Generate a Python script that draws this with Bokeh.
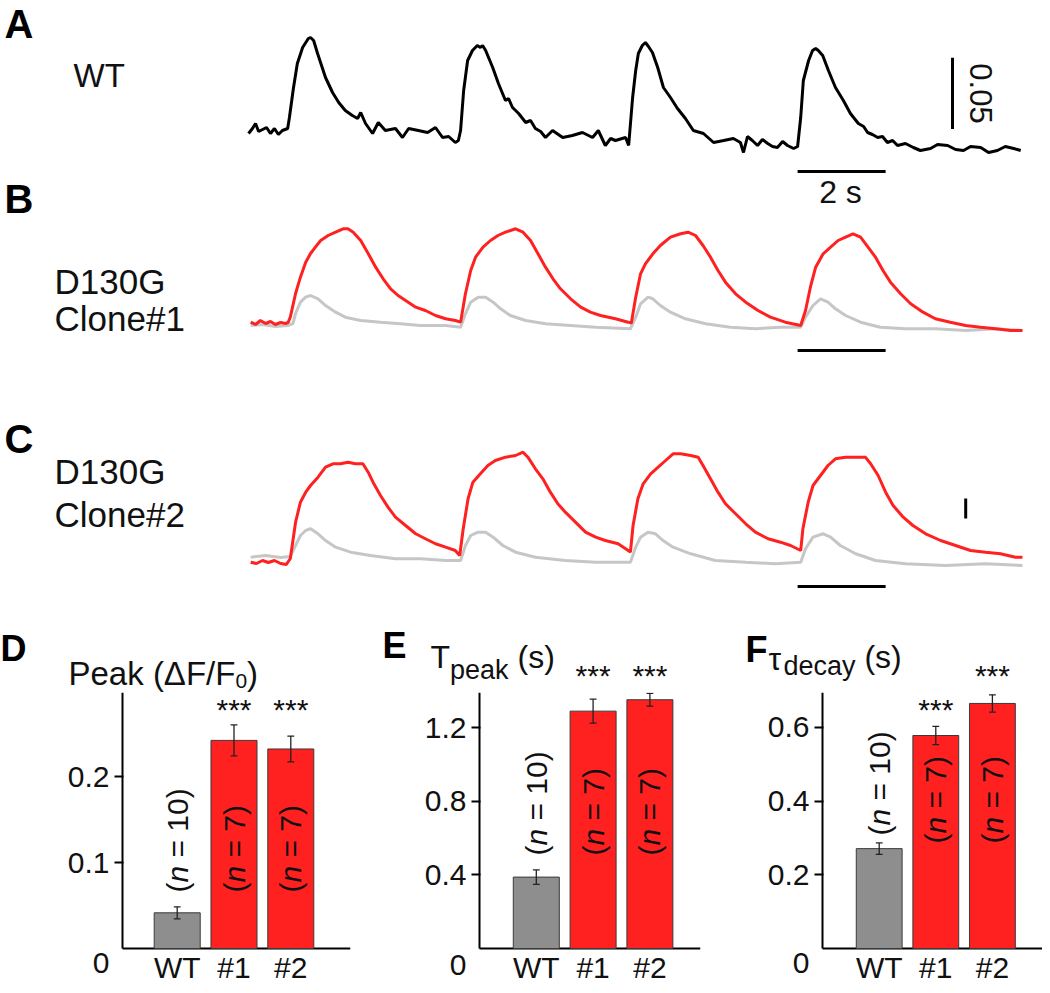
import math
from bokeh.plotting import figure
from bokeh.layouts import column, row
from bokeh.models import Range1d, Label, FixedTicker
from bokeh.embed import file_html
from bokeh.resources import INLINE

FONT = "Liberation Sans"

# ---------------- trace data (time s, dF/F0) ----------------
a_t = [0, 0.09, 0.16, 0.23, 0.32, 0.41, 0.50, 0.59, 0.68, 0.77,
       0.89, 0.93, 1.02, 1.11, 1.23, 1.36, 1.41, 1.48, 1.57, 1.66,
       1.75, 1.91, 2.05, 2.20, 2.36, 2.48, 2.55, 2.66, 2.82, 2.95,
       3.11, 3.34, 3.50, 3.64, 3.86, 4.07, 4.25, 4.41, 4.55, 4.70,
       4.77, 4.82, 4.89, 4.98, 5.09, 5.20, 5.27, 5.32, 5.39, 5.55,
       5.68, 5.84, 5.91, 6.00, 6.14, 6.30, 6.41, 6.52, 6.64, 6.75,
       6.91, 7.14, 7.36, 7.59, 7.82, 7.95, 8.11, 8.23, 8.34, 8.57,
       8.64, 8.73, 8.80, 8.86, 8.95, 9.02, 9.09, 9.18, 9.30, 9.43,
       9.59, 9.75, 9.93, 10.11, 10.34, 10.57, 10.80, 11.02, 11.18, 11.25,
       11.34, 11.45, 11.57, 11.68, 11.80, 11.91, 12.02, 12.14, 12.25, 12.39,
       12.48, 12.55, 12.61, 12.73, 12.82, 12.89, 12.95, 13.05, 13.18, 13.34,
       13.52, 13.68, 13.86, 13.98, 14.07, 14.18, 14.30, 14.41, 14.52, 14.64,
       14.75, 14.93, 15.11, 15.27, 15.50, 15.66, 15.89, 16.07, 16.25, 16.41,
       16.64, 16.82, 17.02, 17.20, 17.39, 17.55]
a_v = [0.0119, 0.0154, 0.0189, 0.0133, 0.0147, 0.0161, 0.0119, 0.0154, 0.0112, 0.0140,
       0.0154, 0.0231, 0.0434, 0.0609, 0.0721, 0.0784, 0.0791, 0.0770, 0.0679, 0.0595,
       0.0511, 0.0406, 0.0336, 0.0280, 0.0245, 0.0224, 0.0266, 0.0189, 0.0119, 0.0196,
       0.0140, 0.0154, 0.0091, 0.0154, 0.0140, 0.0126, 0.0161, 0.0091, 0.0098, 0.0056,
       0.0070, 0.0140, 0.0420, 0.0630, 0.0700, 0.0735, 0.0721, 0.0735, 0.0700, 0.0581,
       0.0469, 0.0350, 0.0364, 0.0301, 0.0259, 0.0196, 0.0210, 0.0154, 0.0133, 0.0091,
       0.0140, 0.0091, 0.0105, 0.0126, 0.0091, 0.0140, 0.0035, 0.0084, 0.0070, 0.0091,
       0.0035, 0.0371, 0.0560, 0.0679, 0.0735, 0.0756, 0.0728, 0.0686, 0.0581, 0.0441,
       0.0371, 0.0294, 0.0224, 0.0140, 0.0119, 0.0056, 0.0070, 0.0084, 0.0056, -0.0014,
       0.0098, 0.0070, 0.0035, 0.0077, 0.0049, 0.0028, 0.0021, 0.0063, 0.0035, 0.0014,
       0.0028, 0.0231, 0.0490, 0.0630, 0.0700, 0.0714, 0.0700, 0.0665, 0.0560, 0.0441,
       0.0350, 0.0259, 0.0189, 0.0168, 0.0126, 0.0112, 0.0091, 0.0098, 0.0056, 0.0070,
       0.0035, 0.0049, 0.0021, 0.0000, 0.0014, 0.0042, 0.0035, 0.0007, 0.0000, 0.0028,
       0.0021, -0.0014, 0.0000, 0.0028, 0.0014, 0.0000]

b_red_t = [0.05, 0.16, 0.27, 0.39, 0.50, 0.61, 0.73, 0.84, 0.90, 0.95,
           1.07, 1.18, 1.30, 1.41, 1.52, 1.64, 1.81, 1.98, 2.15, 2.26,
           2.38, 2.55, 2.72, 2.89, 3.06, 3.23, 3.40, 3.57, 3.80, 4.02,
           4.25, 4.48, 4.70, 4.82, 4.93, 5.05, 5.16, 5.33, 5.50, 5.67,
           5.84, 6.07, 6.24, 6.41, 6.58, 6.75, 6.92, 7.09, 7.32, 7.55,
           7.77, 8.00, 8.34, 8.63, 8.70, 8.80, 8.91, 9.02, 9.19, 9.36,
           9.59, 9.82, 9.99, 10.16, 10.33, 10.50, 10.67, 10.84, 11.07, 11.30,
           11.58, 11.86, 12.20, 12.55, 12.66, 12.77, 12.89, 13.06, 13.23, 13.40,
           13.57, 13.74, 13.91, 14.08, 14.25, 14.42, 14.59, 14.82, 15.05, 15.33,
           15.61, 15.95, 16.30, 16.64, 16.98, 17.32, 17.59]
b_red_v = [0.0208, 0.0150, 0.0250, 0.0175, 0.0225, 0.0150, 0.0200, 0.0175, 0.0200, 0.0333,
           0.0925, 0.1333, 0.1708, 0.1925, 0.2083, 0.2250, 0.2375, 0.2458, 0.2543, 0.2543,
           0.2458, 0.2250, 0.1925, 0.1583, 0.1293, 0.1043, 0.0875, 0.0750, 0.0583, 0.0500,
           0.0375, 0.0293, 0.0250, 0.0208, 0.0918, 0.1500, 0.1833, 0.2083, 0.2250, 0.2375,
           0.2458, 0.2543, 0.2458, 0.2250, 0.1918, 0.1583, 0.1293, 0.1043, 0.0793, 0.0583,
           0.0458, 0.0375, 0.0293, 0.0208, 0.0183, 0.0833, 0.1418, 0.1668, 0.1918, 0.2125,
           0.2333, 0.2418, 0.2458, 0.2375, 0.2125, 0.1833, 0.1500, 0.1208, 0.0918, 0.0708,
           0.0500, 0.0333, 0.0208, 0.0125, 0.0500, 0.1083, 0.1583, 0.1918, 0.2083, 0.2250,
           0.2333, 0.2418, 0.2333, 0.2083, 0.1833, 0.1500, 0.1208, 0.0918, 0.0668, 0.0458,
           0.0293, 0.0208, 0.0125, 0.0083, 0.0043, 0.0000, 0.0000]

b_gray_t = [0.05, 0.32, 0.61, 0.89, 1.01, 1.07, 1.18, 1.30, 1.41, 1.58,
            1.75, 1.98, 2.20, 2.55, 3.00, 3.45, 3.91, 4.48, 4.82, 4.93,
            5.05, 5.22, 5.39, 5.56, 5.73, 5.95, 6.30, 6.75, 7.32, 7.89,
            8.68, 8.80, 8.91, 9.08, 9.19, 9.36, 9.59, 9.93, 10.39, 10.95,
            11.52, 12.09, 12.55, 12.66, 12.83, 13.00, 13.17, 13.34, 13.57, 13.91,
            14.36, 14.93, 15.61, 16.30, 16.98, 17.59]
b_gray_v = [0.0125, 0.0150, 0.0100, 0.0125, 0.0175, 0.0425, 0.0708, 0.0833, 0.0875, 0.0793,
            0.0625, 0.0458, 0.0333, 0.0250, 0.0208, 0.0168, 0.0125, 0.0125, 0.0083, 0.0418,
            0.0708, 0.0833, 0.0833, 0.0708, 0.0543, 0.0375, 0.0250, 0.0168, 0.0125, 0.0083,
            0.0043, 0.0333, 0.0668, 0.0833, 0.0793, 0.0625, 0.0458, 0.0293, 0.0168, 0.0083,
            0.0043, 0.0083, 0.0083, 0.0333, 0.0625, 0.0793, 0.0708, 0.0543, 0.0375, 0.0208,
            0.0083, 0.0043, 0.0043, 0.0000, 0.0043, 0.0000]

c_red_t = [0.05, 0.18, 0.32, 0.45, 0.59, 0.73, 0.86, 0.95, 1.07, 1.18,
           1.30, 1.41, 1.58, 1.75, 1.92, 2.09, 2.26, 2.43, 2.60, 2.72,
           2.83, 3.00, 3.17, 3.34, 3.57, 3.80, 4.02, 4.25, 4.48, 4.70,
           4.80, 4.88, 4.99, 5.10, 5.27, 5.44, 5.61, 5.84, 6.07, 6.24,
           6.35, 6.52, 6.69, 6.86, 7.03, 7.20, 7.43, 7.66, 7.89, 8.11,
           8.40, 8.63, 8.68, 8.74, 8.85, 8.97, 9.14, 9.31, 9.48, 9.65,
           9.82, 10.05, 10.22, 10.33, 10.50, 10.67, 10.84, 11.07, 11.30, 11.52,
           11.81, 12.09, 12.32, 12.55, 12.60, 12.72, 12.83, 13.00, 13.17, 13.34,
           13.57, 13.80, 14.02, 14.14, 14.31, 14.48, 14.65, 14.88, 15.10, 15.39,
           15.73, 16.07, 16.41, 16.75, 17.09, 17.43, 17.59]
c_red_v = [0.0083, 0.0050, 0.0125, 0.0075, 0.0125, 0.0050, 0.0025, 0.0175, 0.1083, 0.1583,
           0.1833, 0.2000, 0.2208, 0.2458, 0.2543, 0.2543, 0.2583, 0.2543, 0.2543, 0.2333,
           0.2083, 0.1750, 0.1458, 0.1208, 0.1000, 0.0793, 0.0668, 0.0543, 0.0458, 0.0375,
           0.0250, 0.0918, 0.1668, 0.2083, 0.2293, 0.2500, 0.2625, 0.2708, 0.2750, 0.2833,
           0.2708, 0.2418, 0.2168, 0.1833, 0.1543, 0.1333, 0.1083, 0.0833, 0.0708, 0.0625,
           0.0543, 0.0375, 0.0333, 0.1000, 0.1668, 0.2043, 0.2293, 0.2458, 0.2625, 0.2793,
           0.2793, 0.2750, 0.2708, 0.2500, 0.2168, 0.1833, 0.1543, 0.1293, 0.1043, 0.0833,
           0.0668, 0.0583, 0.0500, 0.0375, 0.0918, 0.1583, 0.2000, 0.2250, 0.2500, 0.2668,
           0.2708, 0.2708, 0.2708, 0.2543, 0.2250, 0.1833, 0.1500, 0.1208, 0.1000, 0.0793,
           0.0625, 0.0500, 0.0375, 0.0333, 0.0293, 0.0208, 0.0208]

c_gray_t = [0.05, 0.39, 0.73, 0.95, 1.07, 1.18, 1.30, 1.41, 1.58, 1.75,
            1.98, 2.32, 2.77, 3.34, 3.91, 4.48, 4.82, 4.93, 5.05, 5.22,
            5.39, 5.56, 5.78, 6.07, 6.52, 7.20, 7.89, 8.68, 8.80, 8.91,
            9.08, 9.25, 9.42, 9.65, 10.05, 10.61, 11.30, 11.98, 12.55, 12.66,
            12.83, 13.06, 13.23, 13.45, 13.80, 14.25, 14.93, 15.84, 16.75, 17.59]
c_gray_v = [0.0208, 0.0250, 0.0200, 0.0225, 0.0500, 0.0750, 0.0875, 0.0918, 0.0793, 0.0625,
            0.0458, 0.0333, 0.0250, 0.0168, 0.0168, 0.0125, 0.0125, 0.0500, 0.0750, 0.0833,
            0.0833, 0.0708, 0.0500, 0.0333, 0.0208, 0.0125, 0.0083, 0.0083, 0.0458, 0.0708,
            0.0833, 0.0793, 0.0625, 0.0458, 0.0293, 0.0125, 0.0083, 0.0043, 0.0083, 0.0418,
            0.0708, 0.0793, 0.0708, 0.0500, 0.0293, 0.0125, 0.0043, 0.0000, 0.0043, 0.0000]

# ---------------- bar data ----------------
groups = ["WT", "#1", "#2"]
n_labels = ["10", "7", "7"]
peak_mean = [0.0415, 0.242, 0.232]
peak_sem = [0.007, 0.018, 0.015]
tpeak_mean = [0.388, 1.290, 1.352]
tpeak_sem = [0.039, 0.065, 0.035]
tau_mean = [0.271, 0.578, 0.665]
tau_sem = [0.0155, 0.025, 0.0235]
peak_ticks = [0.1, 0.2]
tpeak_ticks = [0.4, 0.8, 1.2]
tau_ticks = [0.2, 0.4, 0.6]

RED = "#ff2020"
GRAY_BAR = "#8e8e8e"
GRAY_TR = "#c6c6c6"
TXT = "#111111"

W = 1042
YA, YB, YC = 0, 222, 415          # page tops of the trace strips
TOP, MID, BOT = 600, 692, 985     # bar panels: title strip / plot


def fx_tr(x):
    return (x - 248) / 44.0


def lab(p, x, y, text, size, style="normal", align="left", angle=0.0, color=TXT):
    p.add_layout(Label(x=x, y=y, text=text, text_font=FONT,
                       text_font_size=f"{size}px", text_font_style=style,
                       text_align=align, text_baseline="middle", angle=angle,
                       text_color=color))


def blank_fig(w, h, xr, yr):
    p = figure(width=w, height=h, x_range=Range1d(*xr), y_range=Range1d(*yr),
               output_backend="svg", toolbar_location=None,
               x_axis_location=None, y_axis_location=None, min_border=0)
    p.outline_line_color = None
    p.grid.visible = False
    p.background_fill_color = "white"
    p.border_fill_color = "white"
    return p

# ---- Panel A ----
fyA = lambda y: (150 - y) * 0.0007
pA = blank_fig(W, YB - YA, (fx_tr(0), fx_tr(W)), (fyA(YB), fyA(YA)))
pA.line(a_t, a_v, line_color="black", line_width=3)
pA.line([16.0, 16.0], [0.015, 0.065], line_color="black", line_width=3)
pA.line([12.48, 14.48], [fyA(171), fyA(171)], line_color="black", line_width=3)
lab(pA, fx_tr(4), fyA(23), "A", 40, "bold", color="#000000")
lab(pA, fx_tr(73), fyA(75), "WT", 33)
lab(pA, fx_tr(980), fyA(93), "0.05", 31, align="center", angle=-math.pi / 2)
lab(pA, fx_tr(840), fyA(191), "2 s", 32, align="center")
lab(pA, fx_tr(4), fyA(198), "B", 40, "bold", color="#000000")

# ---- Panel B ----
fyB = lambda y: (330 - y) * 0.0025
pB = blank_fig(W, YC - YB, (fx_tr(0), fx_tr(W)), (fyB(YC), fyB(YB)))
pB.line(b_gray_t, b_gray_v, line_color=GRAY_TR, line_width=3)
pB.line(b_red_t, b_red_v, line_color=RED, line_width=3)
pB.line([12.48, 14.48], [fyB(350), fyB(350)], line_color="black", line_width=3)
lab(pB, fx_tr(54), fyB(281), "D130G", 35)
lab(pB, fx_tr(54), fyB(318), "Clone#1", 35)

# ---- Panel C ----
fyC = lambda y: (565 - y) * 0.0025
pC = blank_fig(W, TOP - YC, (fx_tr(0), fx_tr(W)), (fyC(TOP), fyC(YC)))
pC.line(c_gray_t, c_gray_v, line_color=GRAY_TR, line_width=3)
pC.line(c_red_t, c_red_v, line_color=RED, line_width=3)
pC.line([12.48, 14.48], [fyC(586), fyC(586)], line_color="black", line_width=3)
pC.line([16.3, 16.3], [fyC(518), fyC(498)], line_color="black", line_width=3)
lab(pC, fx_tr(4), fyC(438), "C", 40, "bold", color="#000000")
lab(pC, fx_tr(54), fyC(471), "D130G", 35)
lab(pC, fx_tr(54), fyC(514), "Clone#2", 35)


def bar_panel(col_l, col_r, frame_l, axis_x, axis_r, c1, step, ppu,
              means, sems, ticks, zero_y, stars, n_y, letter, letter_xy, title_parts):
    fx = lambda x: 1 + (x - c1) / step
    fy = lambda y: (948 - y) / ppu
    w = col_r - col_l
    right_b = col_r - axis_r
    # title strip above the plot
    t = blank_fig(w, MID - TOP, (fx(col_l), fx(col_r)), (fy(MID), fy(TOP)))
    # plot
    p = figure(width=w, height=BOT - MID,
               x_range=Range1d(fx(frame_l), fx(col_r - right_b)),
               y_range=Range1d(fy(BOT), fy(MID)), output_backend="svg",
               toolbar_location=None, x_axis_location=None,
               min_border_left=frame_l - col_l, min_border_right=right_b,
               min_border_top=0, min_border_bottom=0)
    p.outline_line_color = None
    p.grid.visible = False
    p.background_fill_color = "white"
    p.border_fill_color = "white"
    ya = p.yaxis[0]
    zero_pos = round(fy(zero_y), 4)
    ya.ticker = FixedTicker(ticks=ticks + [zero_pos], minor_ticks=ticks)
    ov = {tk: f"{tk:g}" for tk in ticks}
    ov[zero_pos] = "0"
    ya.major_label_overrides = ov
    ya.axis_line_color = None
    ya.major_tick_line_color = None
    ya.major_tick_in = 0
    ya.major_tick_out = 8
    ya.minor_tick_line_color = "black"
    ya.minor_tick_line_width = 2
    ya.minor_tick_in = 3
    ya.minor_tick_out = 6
    ya.major_label_standoff = 3
    ya.major_label_text_font = FONT
    ya.major_label_text_font_size = "30px"
    ya.major_label_text_color = TXT

    xs = [1, 2, 3]
    p.line([fx(axis_x), fx(axis_x)], [0, fy(MID)], line_color="black", line_width=2)
    p.line([fx(axis_x), fx(axis_r)], [0, 0], line_color="black", line_width=2)
    p.vbar(x=xs, top=means, width=0.81, bottom=0,
           fill_color=[GRAY_BAR, RED, RED], line_color="#3a3a3a", line_width=1)
    lo = [m - s for m, s in zip(means, sems)]
    hi = [m + s for m, s in zip(means, sems)]
    p.segment(x0=xs, y0=lo, x1=xs, y1=hi, line_color="#222222", line_width=1.3)
    for yv in (lo, hi):
        p.segment(x0=[x - 0.06 for x in xs], y0=yv, x1=[x + 0.06 for x in xs], y1=yv,
                  line_color="#222222", line_width=1.3)
    # significance stars
    for x, (sy, where) in zip(xs[1:], stars):
        lab(t if where == "top" else p, x, fy(sy), "***", 30, align="center")
    # rotated n labels
    fs = 30
    for x, nl, yb in zip(xs, n_labels, n_y):
        lab(p, x, fy(yb), "(", fs, angle=math.pi / 2)
        lab(p, x, fy(yb - 0.333 * fs), "n", fs, style="italic", angle=math.pi / 2)
        lab(p, x, fy(yb - (0.333 + 0.556 + 0.278) * fs), "= " + nl + ")", fs,
            angle=math.pi / 2)
    # category labels
    for x, g in zip(xs, groups):
        lab(p, x, fy(967), g, 30, align="center")
    # panel letter and title
    lab(t, fx(letter_xy[0]), fy(letter_xy[1]), letter, 36, "bold", color="#000000")
    for (x, y, txt, s) in title_parts:
        lab(t, fx(x), fy(y), txt, s)
    return t, p

# D
tD0 = 68 + 5.058 * 33
tD, pD = bar_panel(0, 365, 120, 122, 350, 176.7, 56.8, 860.0,
                   peak_mean, peak_sem, peak_ticks, 962,
                   [(709, "main"), (709, "main")],
                   [892, 892, 892], "D", (0, 648),
                   [(68, 673, "Peak (\u0394F/F", 33),
                    (tD0, 680, "0", 21),
                    (tD0 + 0.556 * 21, 673, ")", 33)])
# E
tE, pE = bar_panel(365, 705, 477, 479, 700, 535.8, 56.8, 184.0,
                   tpeak_mean, tpeak_sem, tpeak_ticks, 964,
                   [(675, "top"), (675, "top")],
                   [855, 855, 855], "E", (382, 645),
                   [(430, 656, "T", 32),
                    (430 + 0.611 * 32, 669, "peak", 27),
                    (430 + 0.611 * 32 + 2.168 * 27 + 0.278 * 32, 656, "(s)", 32)])
# F
tF, pF = bar_panel(705, 1042, 820, 822, 1042, 878.7, 56.6, 368.5,
                   tau_mean, tau_sem, tau_ticks, 963,
                   [(709, "main"), (675, "top")],
                   [835, 843, 843], "F", (745, 649),
                   [(768, 658, "\u03c4", 32),
                    (783, 665, "decay", 27),
                    (783 + 2.668 * 27 + 0.278 * 32, 656, "(s)", 32)])

layout = column(pA, pB, pC, row(tD, tE, tF, spacing=0), row(pD, pE, pF, spacing=0),
                spacing=0)
open("out.html", "w").write(file_html(layout, INLINE, title="Figure"))
